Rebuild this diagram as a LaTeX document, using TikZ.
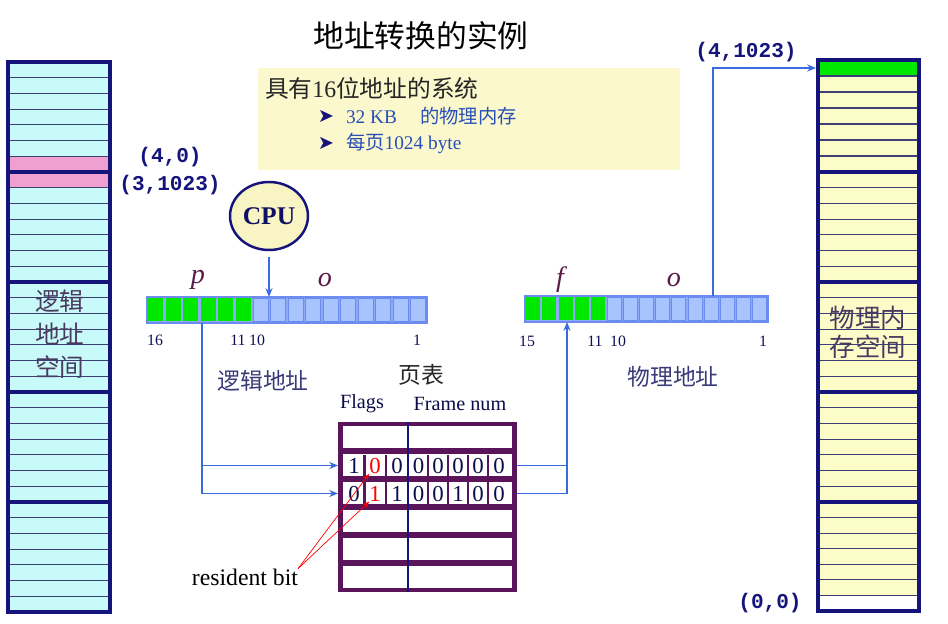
\documentclass[tikz,border=0pt]{standalone}
\usepackage{fontspec}
\setmainfont{Liberation Serif}
\setmonofont{Liberation Mono}
\newfontfamily\cjk{Noto Sans CJK SC}
\newfontfamily\dingfont{DejaVu Sans}
\usetikzlibrary{arrows.meta, positioning, shapes.geometric}

\definecolor{navy}{HTML}{14147A}
\definecolor{memcyan}{HTML}{C8FAFA}
\definecolor{mempink}{HTML}{F0A0D0}
\definecolor{memyellow}{HTML}{FCFCC8}
\definecolor{bitgreen}{HTML}{00E800}
\definecolor{bitblue}{HTML}{A8C4FF}
\definecolor{bitedge}{HTML}{6C8CF0}
\definecolor{bitframe}{HTML}{8CAAF6}
\definecolor{linkblue}{HTML}{3A6AE0}
\definecolor{tblpurple}{HTML}{5A145A}
\definecolor{notebox}{HTML}{FAF8CC}
\definecolor{cpufill}{HTML}{F8F4C4}
\definecolor{labelink}{HTML}{3A3A78}
\definecolor{memink}{HTML}{4A3A60}
\definecolor{varink}{HTML}{5A1A4A}
\definecolor{itemblue}{HTML}{2850B8}

\begin{document}
\begin{tikzpicture}[x=0.02cm, y=-0.02cm,
    every node/.style={inner sep=0pt, outer sep=0pt},
    link/.style={draw=linkblue, line width=1.1pt, -{Stealth[length=5pt, width=4pt]}},
    linkplain/.style={draw=linkblue, line width=1.1pt},
    resline/.style={draw=red, line width=0.4pt, -{Stealth[length=4pt, width=3pt]}},
    rowline/.style={draw=navy!70!black!80, line width=0.6pt},
    secline/.style={draw=navy, line width=2.2pt},
    memframe/.style={draw=navy, line width=2.8pt},
    regframe/.style={draw=bitedge, fill=bitframe, line width=0.8pt, minimum height=0.52cm},
    greenbit/.style={fill=bitgreen},
    bluebit/.style={draw=bitedge, fill=bitblue, line width=0.5pt},
    tblrow/.style={fill=white, minimum width=3.38cm, minimum height=0.44cm},
    digit/.style={font=\fontsize{13}{14}\selectfont, text=navy!60!black},
    bitnum/.style={font=\fontsize{9}{10}\selectfont, text=navy!70!black},
    field/.style={font=\fontsize{16}{18}\selectfont\itshape, text=varink},
    coord/.style={font=\fontsize{12}{14}\selectfont\ttfamily\bfseries, text=navy},
    cnlabel/.style={font=\fontsize{13}{15}\selectfont\cjk, text=labelink},
    memtext/.style={font=\fontsize{14}{18.7}\selectfont\cjk, text=memink, align=center},
    bullet/.style={font=\fontsize{11}{13}\selectfont\dingfont, text=navy},
  ]
  \fill[white] (0,0) rectangle (948,624);
  \useasboundingbox (0,0) rectangle (948,624);

  \node[font=\fontsize{17.5}{20}\selectfont\cjk] (title) at (421,36) {地址转换的实例};

  % logical address space
  \fill[memcyan] (8,62) rectangle (110,612);
  \fill[mempink] (8,156.3) rectangle (110,187.7);
  \foreach \t/\h in {62/110,172/110,282/110,392/110,502/110}
    \foreach \r in {1,...,6}
      \draw[rowline] (8,\t+\r*\h/7) -- (110,\t+\r*\h/7);
  \foreach \t in {172,282,392,502}
    \draw[secline] (8,\t) -- (110,\t);
  \draw[memframe] (8,62) rectangle (110,612);
  \node[memtext] (lmemtxt) at (60,334) {逻辑\\地址\\空间};

  % physical memory
  \fill[memyellow] (818,60) rectangle (919,611);
  \fill[bitgreen] (818,60) rectangle (919,76);
  \fill[white] (818,595) rectangle (919,611);
  \foreach \t/\h in {60/112,172/110,282/110,392/110,502/109}
    \foreach \r in {1,...,6}
      \draw[rowline] (818,\t+\r*\h/7) -- (919,\t+\r*\h/7);
  \foreach \t in {172,282,392,502}
    \draw[secline] (818,\t) -- (919,\t);
  \draw[memframe] (818,60) rectangle (919,611);
  \node[memtext, font=\fontsize{14.5}{16.4}\selectfont\cjk] (pmemtxt) at (868,332) {物理内\\存空间};
  \coordinate (pframe) at (816,68);

  \node[coord] (c40) at (170,157) {(4,0)};
  \node[coord] (c31023) at (170,185) {(3,1023)};
  \node[coord] (c41023) at (746,52) {(4,1023)};
  \node[coord] (c00) at (770,603) {(0,0)};

  % note
  \node[fill=notebox, minimum width=8.44cm, minimum height=2.04cm] (note) at (469,119) {};
  \node[anchor=west, font=\fontsize{13.5}{15}\selectfont, text=black!85] (head) at (265,88)
    {{\cjk 具有}16{\cjk 位地址的系统}};
  \node[bullet] (b1) at (326,116) {➤};
  \node[bullet] (b2) at (326,143) {➤};
  \node[anchor=west, font=\fontsize{11}{12}\selectfont, text=itemblue] (item1) at (346,116)
    {32 KB\hspace{1.2em}{\cjk 的物理内存}};
  \node[anchor=west, font=\fontsize{11}{12}\selectfont, text=itemblue] (item2) at (346,143)
    {{\cjk 每页}1024 byte};

  % CPU
  \node[draw=navy, fill=cpufill, ellipse, line width=1.4pt, minimum width=1.56cm,
    minimum height=1.36cm, font=\fontsize{14.5}{16}\selectfont\bfseries, text=navy!80!black]
    (cpu) at (269,216) {CPU};

  % logical address
  \node[regframe, minimum width=5.6cm] (lreg) at (287,310) {};
  \foreach \i in {0,...,5}
    \fill[greenbit] (148.25+\i*17.5,298.5) rectangle ++(15,23);
  \foreach \i in {6,...,15}
    \draw[bluebit] (148.25+\i*17.5,298.5) rectangle ++(15,23);
  \node[field] (lp) at (198,280) {p};
  \node[field] (lo) at (325,280) {o};
  \node[bitnum] (l16) at (155,340) {16};
  \node[bitnum] (l11) at (238,340) {11};
  \node[bitnum] (l10) at (257,340) {10};
  \node[bitnum] (l1) at (417,340) {1};
  \node[cnlabel] (laddr) at (263,381) {逻辑地址};
  \coordinate (ltap) at (202,323);

  % physical address
  \node[regframe, minimum width=4.86cm] (preg) at (646.5,309) {};
  \foreach \i in {0,...,4}
    \fill[greenbit] (526.1+\i*16.2,297.5) rectangle ++(14,23);
  \foreach \i in {5,...,14}
    \draw[bluebit] (526.1+\i*16.2,297.5) rectangle ++(14,23);
  \node[field] (pf) at (560,280) {f};
  \node[field] (po) at (674,280) {o};
  \node[bitnum] (p15) at (527,341) {15};
  \node[bitnum] (p11) at (595,341) {11};
  \node[bitnum] (p10) at (618,341) {10};
  \node[bitnum] (p1) at (763,341) {1};
  \node[cnlabel] (paddr) at (673,377) {物理地址};
  \coordinate (ftap) at (567,322);
  \coordinate (otap) at (713,296);

  % page table
  \node[font=\fontsize{13}{15}\selectfont\cjk, text=black!85] (ptname) at (421,375) {页表};
  \node[font=\fontsize{11.5}{13}\selectfont, text=navy!60!black] (flags) at (362,404) {Flags};
  \node[font=\fontsize{11.5}{13}\selectfont, text=navy!60!black] (fnum) at (460,404) {Frame num};
  \node[fill=tblpurple, minimum width=3.58cm, minimum height=3.4cm] (tbl) at (427.5,507) {};
  \foreach \k in {1,...,6}
    \node[tblrow] (row\k) at (427.5,437.5+28*\k-28) {};
  \foreach \x in {364.5,386,428,448,468,488}
    \draw[tblpurple, line width=1.2pt] (\x,455) -- (\x,505);
  \draw[navy, line width=1.3pt] (408,422) -- (408,592);
  \foreach \x/\d/\i in {354/1/1,397/0/3,418.5/0/4,438/0/5,458/0/6,478/0/7,499/0/8}
    \node[digit] (ra\i) at (\x,466) {\d};
  \node[digit, text=red] (ra2) at (375,466) {0};
  \foreach \x/\d/\i in {354/0/1,397/1/3,418.5/0/4,438/0/5,458/1/6,478/0/7,499/0/8}
    \node[digit] (rb\i) at (\x,494) {\d};
  \node[digit, text=red] (rb2) at (375,494) {1};

  \node[font=\fontsize{13.5}{15}\selectfont] (resident) at (245,577) {resident bit};
  \draw[resline] (resident.north east) -- (ra2.south west);
  \draw[resline] (resident.north east) -- (rb2.south west);

  % connectors
  \draw[link, shorten <=4pt] (cpu.south) -- (cpu.south |- lreg.north);
  \draw[link] (ltap) |- (row2 -| tbl.west);
  \draw[link] (ltap) |- (row3 -| tbl.west);
  \draw[linkplain] (row2 -| tbl.east) -- (row2 -| ftap);
  \draw[link] (row3 -| tbl.east) -| (ftap);
  \draw[link] (otap) |- (pframe);
\end{tikzpicture}
\end{document}
